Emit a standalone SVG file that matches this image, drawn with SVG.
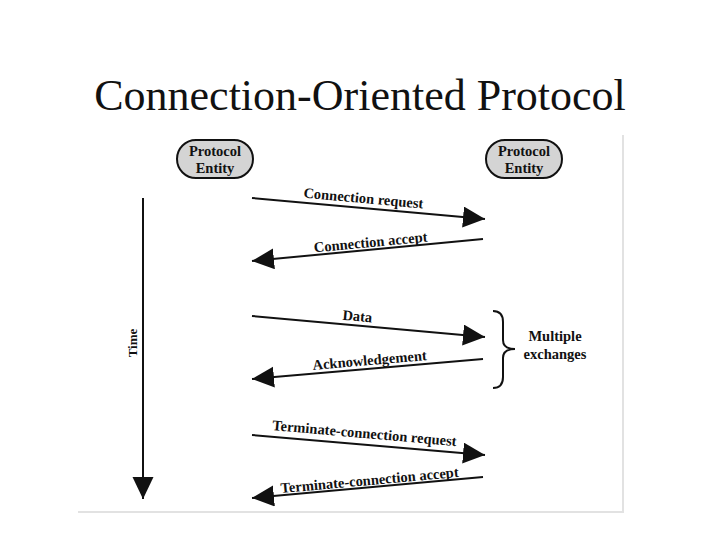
<svg xmlns="http://www.w3.org/2000/svg" width="720" height="539" viewBox="0 0 720 539">
<defs>
<style>
.lbl{font-family:"Liberation Serif","Times New Roman",serif;font-weight:bold;font-size:14.5px;fill:#111;text-anchor:middle}
.node{fill:#d4d4d4;stroke:#111;stroke-width:2}
.msg{stroke:#111;stroke-width:2;fill:none;marker-end:url(#ah)}
</style>
<marker id="ah" markerUnits="userSpaceOnUse" markerWidth="24" markerHeight="22" refX="22" refY="10.5" orient="auto">
<path d="M0,0 L22,10.5 L0,21 Z" fill="#111"/>
</marker>
</defs>
<rect width="720" height="539" fill="#fff"/>
<polyline points="78,512 623,512 623,135" fill="none" stroke="#e2e2e2" stroke-width="2"/>
<text x="360" y="110" font-family="'Liberation Serif','Times New Roman',serif" font-size="44" text-anchor="middle" fill="#111">Connection-Oriented Protocol</text>
<g id="entity-left">
<rect class="node" x="177" y="140" width="76" height="38" rx="19"/>
<text class="lbl" x="215" y="156">Protocol</text>
<text class="lbl" x="215" y="173">Entity</text>
</g>
<g id="entity-right">
<rect class="node" x="486" y="140" width="76" height="38" rx="19"/>
<text class="lbl" x="524" y="156">Protocol</text>
<text class="lbl" x="524" y="173">Entity</text>
</g>
<g id="time">
<line x1="143" y1="198" x2="143" y2="499" stroke="#111" stroke-width="2" marker-end="url(#ah)"/>
<text class="lbl" style="font-size:13px" transform="translate(137,343) rotate(-90)">Time</text>
</g>
<g id="connectors">
<line class="msg" x1="252" y1="198" x2="485" y2="219"/>
<line class="msg" x1="483" y1="239" x2="252" y2="261"/>
<line class="msg" x1="252" y1="316" x2="485" y2="337"/>
<line class="msg" x1="483" y1="359" x2="252" y2="379"/>
<line class="msg" x1="252" y1="435" x2="485" y2="455"/>
<line class="msg" x1="483" y1="477" x2="252" y2="498"/>
</g>
<g id="labels">
<text class="lbl" transform="translate(363,203) rotate(5.2)">Connection request</text>
<text class="lbl" transform="translate(371,247) rotate(-5.4)">Connection accept</text>
<text class="lbl" transform="translate(357,321) rotate(5.2)">Data</text>
<text class="lbl" transform="translate(370,365) rotate(-5)">Acknowledgement</text>
<text class="lbl" transform="translate(364,438) rotate(5)">Terminate-connection request</text>
<text class="lbl" transform="translate(370,485) rotate(-5.2)">Terminate-connection accept</text>
</g>
<g id="multiple-exchanges">
<path d="M493,311 Q503,311 503,322 L503,340 Q503,349 515,349 Q503,349 503,358 L503,377 Q503,388 493,388" fill="none" stroke="#111" stroke-width="2"/>
<text class="lbl" x="555" y="341">Multiple</text>
<text class="lbl" x="555" y="359">exchanges</text>
</g>
</svg>
